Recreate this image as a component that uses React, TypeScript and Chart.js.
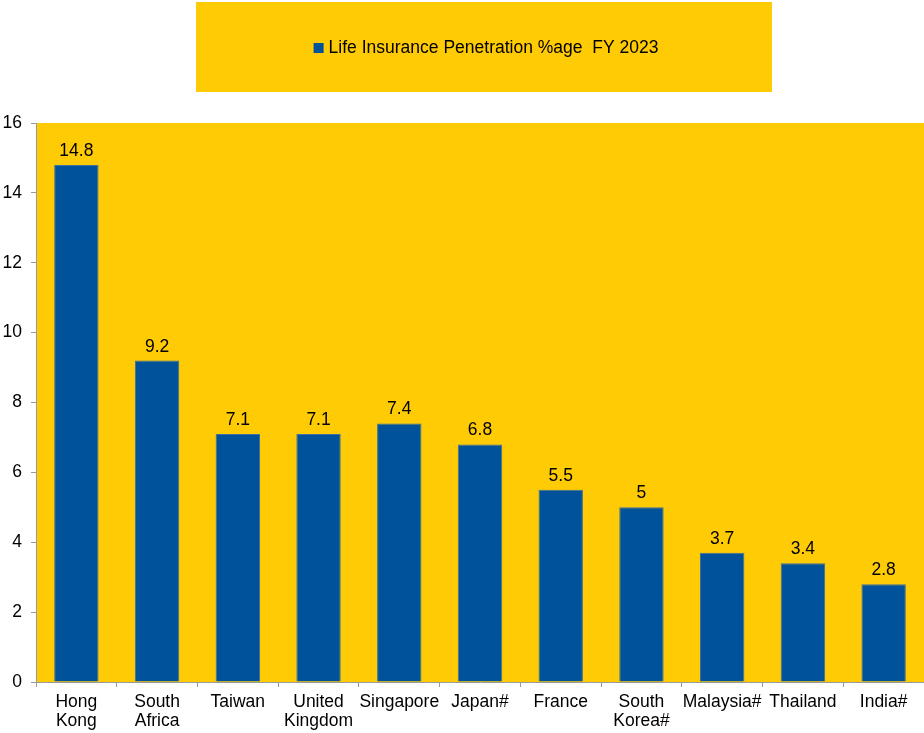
import React, { useEffect, useRef } from "react";
import { Chart, registerables } from "chart.js";

Chart.register(...registerables);

const categories: (string | string[])[] = [
  ["Hong", "Kong"],
  ["South", "Africa"],
  "Taiwan",
  ["United", "Kingdom"],
  "Singapore",
  "Japan#",
  "France",
  ["South", "Korea#"],
  "Malaysia#",
  "Thailand",
  "India#",
];
const penetration: number[] = [14.8, 9.2, 7.1, 7.1, 7.4, 6.8, 5.5, 5, 3.7, 3.4, 2.8];
const seriesLabel = "Life Insurance Penetration %age  FY 2023";
const yTicks = { min: 0, max: 16, step: 2 };

const YELLOW = "#FFCB05";
const BLUE = "#00529B";
const FONT = '"Liberation Sans", Arial, sans-serif';
const FS = 17.5;

const bgPlugin = {
  id: "bgPlugin",
  beforeDraw(chart: any) {
    const { ctx, chartArea } = chart;
    ctx.save();
    ctx.fillStyle = "#ffffff";
    ctx.fillRect(0, 0, chart.width, chart.height);
    ctx.fillStyle = YELLOW;
    ctx.fillRect(chartArea.left, chartArea.top, chartArea.right - chartArea.left, chartArea.bottom - chartArea.top);
    // legend box
    ctx.fillRect(196, 2, 576, 90);
    ctx.font = `${FS}px ${FONT}`;
    ctx.textBaseline = "middle";
    ctx.textAlign = "left";
    const text = chart.data.datasets[0].label;
    const w = ctx.measureText(text).width;
    const total = 10 + 5 + w;
    const x0 = 196 + (576 - total) / 2 + 2;
    ctx.fillStyle = BLUE;
    ctx.fillRect(x0, 43, 10, 10);
    ctx.fillStyle = "#000000";
    ctx.fillText(text, x0 + 15, 48);
    ctx.restore();
  },
};

const labelPlugin = {
  id: "labelPlugin",
  afterDatasetsDraw(chart: any) {
    const { ctx } = chart;
    const meta = chart.getDatasetMeta(0);
    const data = chart.data.datasets[0].data;
    ctx.save();
    ctx.font = `${FS}px ${FONT}`;
    ctx.fillStyle = "#000000";
    ctx.textAlign = "center";
    ctx.textBaseline = "alphabetic";
    meta.data.forEach((el: any, i: number) => {
      ctx.fillText(String(data[i]), el.x, el.y - 9);
    });
    ctx.restore();
  },
};

export default function App() {
  const ref = useRef<HTMLCanvasElement | null>(null);
  useEffect(() => {
    document.body.style.margin = "0";
    if (!ref.current) return;
    const chart = new Chart(ref.current, {
      type: "bar",
      data: {
        labels: categories,
        datasets: [
          {
            label: seriesLabel,
            data: penetration,
            backgroundColor: BLUE,
            borderColor: "#3D6FA3",
            borderWidth: 1,
            categoryPercentage: 1,
            barPercentage: 0.55,
          },
        ],
      },
      options: {
        animation: false,
        responsive: false,
        maintainAspectRatio: false,
        layout: { padding: { top: 123, left: 0, right: 0, bottom: 0 } },
        plugins: {
          legend: { display: false },
          tooltip: { enabled: false },
        },
        scales: {
          x: {
            afterFit: (s: any) => {
              s.height = 51;
            },
            grid: {
              drawOnChartArea: false,
              drawTicks: true,
              tickLength: 5,
              color: "#9a9a9a",
              offset: true,
            },
            border: { display: true, color: "#9a9a9a", width: 1 },
            ticks: {
              color: "#000000",
              font: { family: FONT, size: FS, lineHeight: 1.09 },
              padding: 6,
              maxRotation: 0,
              autoSkip: false,
            },
          },
          y: {
            min: yTicks.min,
            max: yTicks.max,
            afterFit: (s: any) => {
              s.width = 36;
            },
            grid: {
              drawOnChartArea: false,
              drawTicks: true,
              tickLength: 5,
              color: "#9a9a9a",
            },
            border: { display: true, color: "#9a9a9a", width: 1 },
            ticks: {
              stepSize: yTicks.step,
              color: "#000000",
              font: { family: FONT, size: FS },
              padding: 9,
            },
          },
        },
      },
      plugins: [bgPlugin, labelPlugin],
    });
    return () => chart.destroy();
  }, []);
  return (
    <div style={{ position: "absolute", left: 0, top: 0, width: 924, height: 733 }}>
      <canvas ref={ref} width={924} height={733} />
    </div>
  );
}
